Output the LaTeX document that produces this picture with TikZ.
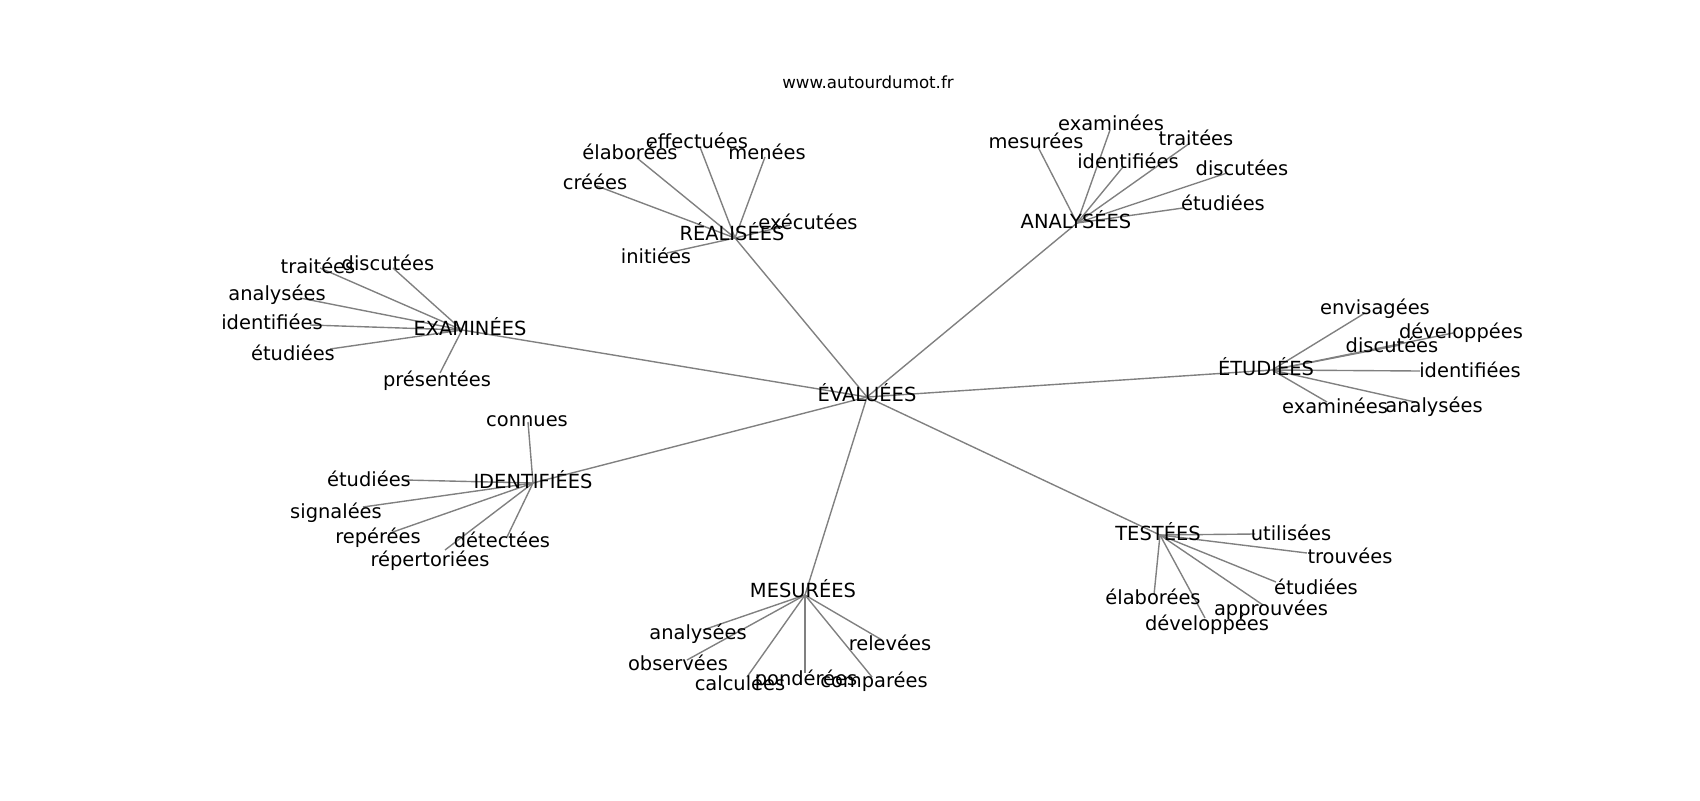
\documentclass[tikz,border=0pt]{standalone}
\usepackage{fontspec}
\setmainfont{DejaVu Sans}
\usepackage{tikz}

\definecolor{edgegray}{HTML}{808080}

\begin{document}
\begin{tikzpicture}[x=0.72pt,y=-0.72pt,
    edge/.style={draw=edgegray,line width=1pt},
    word/.style={inner sep=0pt,text height=0.74em,text depth=0pt,anchor=center,yshift=-1.8pt,font=\fontsize{14}{16}\selectfont},
    site/.style={inner sep=0pt,text height=0.74em,text depth=0pt,anchor=center,yshift=-1.8pt,font=\fontsize{12}{14}\selectfont}]
            % Fix the size of the figure
            \useasboundingbox (0,0) rectangle (1700,800);

            % Define the positions of the centre and the hubs
            \coordinate (EVA) at (867,397);
            \coordinate (REA) at (735,238);
            \coordinate (ANA) at (1077,223);
            \coordinate (EXA) at (462,330);
            \coordinate (ETU) at (1272,370);
            \coordinate (IDE) at (533,483);
            \coordinate (MES) at (805,595);
            \coordinate (TES) at (1160,535);

            % Define the positions of the leaves
            \coordinate (REA1) at (700,147);
            \coordinate (REA2) at (637,158);
            \coordinate (REA3) at (765,157);
            \coordinate (REA4) at (597,186);
            \coordinate (REA5) at (790,225);
            \coordinate (REA6) at (667,253);

            \coordinate (ANA1) at (1038,147);
            \coordinate (ANA2) at (1110,130);
            \coordinate (ANA3) at (1190,143);
            \coordinate (ANA4) at (1123,167);
            \coordinate (ANA5) at (1227,173);
            \coordinate (ANA6) at (1183,208);

            \coordinate (EXA1) at (320,268);
            \coordinate (EXA2) at (393,268);
            \coordinate (EXA3) at (300,298);
            \coordinate (EXA4) at (310,325);
            \coordinate (EXA5) at (330,349);
            \coordinate (EXA6) at (440,373);

            \coordinate (IDE1) at (528,422);
            \coordinate (IDE2) at (405,480);
            \coordinate (IDE3) at (363,507);
            \coordinate (IDE4) at (390,533);
            \coordinate (IDE5) at (507,537);
            \coordinate (IDE6) at (445,550);

            \coordinate (MES1) at (703,630);
            \coordinate (MES2) at (687,660);
            \coordinate (MES3) at (747,677);
            \coordinate (MES4) at (805,673);
            \coordinate (MES5) at (872,677);
            \coordinate (MES6) at (882,640);

            \coordinate (TES1) at (1255,534);
            \coordinate (TES2) at (1307,553);
            \coordinate (TES3) at (1276,582);
            \coordinate (TES4) at (1263,605);
            \coordinate (TES5) at (1205,618);
            \coordinate (TES6) at (1154,595);

            \coordinate (ETU1) at (1365,313);
            \coordinate (ETU2) at (1453,333);
            \coordinate (ETU3) at (1400,345);
            \coordinate (ETU4) at (1420,371);
            \coordinate (ETU5) at (1327,402);
            \coordinate (ETU6) at (1415,402);

            % Draw the edges
            \draw[edge] (EVA) -- (REA);
            \draw[edge] (EVA) -- (ANA);
            \draw[edge] (EVA) -- (EXA);
            \draw[edge] (EVA) -- (ETU);
            \draw[edge] (EVA) -- (IDE);
            \draw[edge] (EVA) -- (MES);
            \draw[edge] (EVA) -- (TES);

            \draw[edge] (REA) -- (REA1);
            \draw[edge] (REA) -- (REA2);
            \draw[edge] (REA) -- (REA3);
            \draw[edge] (REA) -- (REA4);
            \draw[edge] (REA) -- (REA5);
            \draw[edge] (REA) -- (REA6);

            \draw[edge] (ANA) -- (ANA1);
            \draw[edge] (ANA) -- (ANA2);
            \draw[edge] (ANA) -- (ANA3);
            \draw[edge] (ANA) -- (ANA4);
            \draw[edge] (ANA) -- (ANA5);
            \draw[edge] (ANA) -- (ANA6);

            \draw[edge] (EXA) -- (EXA1);
            \draw[edge] (EXA) -- (EXA2);
            \draw[edge] (EXA) -- (EXA3);
            \draw[edge] (EXA) -- (EXA4);
            \draw[edge] (EXA) -- (EXA5);
            \draw[edge] (EXA) -- (EXA6);

            \draw[edge] (IDE) -- (IDE1);
            \draw[edge] (IDE) -- (IDE2);
            \draw[edge] (IDE) -- (IDE3);
            \draw[edge] (IDE) -- (IDE4);
            \draw[edge] (IDE) -- (IDE5);
            \draw[edge] (IDE) -- (IDE6);

            \draw[edge] (MES) -- (MES1);
            \draw[edge] (MES) -- (MES2);
            \draw[edge] (MES) -- (MES3);
            \draw[edge] (MES) -- (MES4);
            \draw[edge] (MES) -- (MES5);
            \draw[edge] (MES) -- (MES6);

            \draw[edge] (TES) -- (TES1);
            \draw[edge] (TES) -- (TES2);
            \draw[edge] (TES) -- (TES3);
            \draw[edge] (TES) -- (TES4);
            \draw[edge] (TES) -- (TES5);
            \draw[edge] (TES) -- (TES6);

            \draw[edge] (ETU) -- (ETU1);
            \draw[edge] (ETU) -- (ETU2);
            \draw[edge] (ETU) -- (ETU3);
            \draw[edge] (ETU) -- (ETU4);
            \draw[edge] (ETU) -- (ETU5);
            \draw[edge] (ETU) -- (ETU6);

            % Draw the labels
            \node[site] (site) at (868,81) {www.autourdumot.fr};

            \node[word] (tEVA) at (867,394) {ÉVALUÉES};
            \node[word] (tREA) at (732,233) {RÉALISÉES};
            \node[word] (tANA) at (1076,221) {ANALYSÉES};
            \node[word] (tEXA) at (470,328) {EXAMINÉES};
            \node[word] (tETU) at (1266,368) {ÉTUDIÉES};
            \node[word] (tIDE) at (533,481) {IDENTIFIÉES};
            \node[word] (tMES) at (803,590) {MESURÉES};
            \node[word] (tTES) at (1158,533) {TESTÉES};

            \node[word] (tREA1) at (697,141) {effectuées};
            \node[word] (tREA2) at (630,152) {élaborées};
            \node[word] (tREA3) at (767,152) {menées};
            \node[word] (tREA4) at (595,182) {créées};
            \node[word] (tREA5) at (808,222) {exécutées};
            \node[word] (tREA6) at (656,256) {initiées};

            \node[word] (tANA1) at (1036,141) {mesurées};
            \node[word] (tANA2) at (1111,123) {examinées};
            \node[word] (tANA3) at (1196,138) {traitées};
            \node[word] (tANA4) at (1128,161) {identifiées};
            \node[word] (tANA5) at (1242,168) {discutées};
            \node[word] (tANA6) at (1223,203) {étudiées};

            \node[word] (tEXA1) at (318,266) {traitées};
            \node[word] (tEXA2) at (388,263) {discutées};
            \node[word] (tEXA3) at (277,293) {analysées};
            \node[word] (tEXA4) at (272,322) {identifiées};
            \node[word] (tEXA5) at (293,353) {étudiées};
            \node[word] (tEXA6) at (437,379) {présentées};

            \node[word] (tIDE1) at (527,419) {connues};
            \node[word] (tIDE2) at (369,479) {étudiées};
            \node[word] (tIDE3) at (336,511) {signalées};
            \node[word] (tIDE4) at (378,536) {repérées};
            \node[word] (tIDE5) at (502,540) {détectées};
            \node[word] (tIDE6) at (430,559) {répertoriées};

            \node[word] (tMES1) at (698,632) {analysées};
            \node[word] (tMES2) at (678,663) {observées};
            \node[word] (tMES3) at (740,683) {calculées};
            \node[word] (tMES4) at (806,678) {pondérées};
            \node[word] (tMES5) at (874,680) {comparées};
            \node[word] (tMES6) at (890,643) {relevées};

            \node[word] (tTES1) at (1291,533) {utilisées};
            \node[word] (tTES2) at (1350,556) {trouvées};
            \node[word] (tTES3) at (1316,587) {étudiées};
            \node[word] (tTES4) at (1271,608) {approuvées};
            \node[word] (tTES5) at (1207,623) {développées};
            \node[word] (tTES6) at (1153,597) {élaborées};

            \node[word] (tETU1) at (1375,307) {envisagées};
            \node[word] (tETU2) at (1461,331) {développées};
            \node[word] (tETU3) at (1392,345) {discutées};
            \node[word] (tETU4) at (1470,370) {identifiées};
            \node[word] (tETU5) at (1335,406) {examinées};
            \node[word] (tETU6) at (1434,405) {analysées};
\end{tikzpicture}
\end{document}
